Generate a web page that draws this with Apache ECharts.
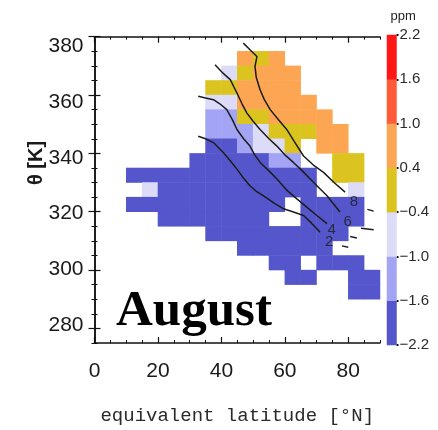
<!DOCTYPE html>
<html>
<head>
<meta charset="utf-8">
<script src="https://cdn.jsdelivr.net/npm/echarts@6/dist/echarts.min.js"></script>
<style>
  html, body { margin: 0; padding: 0; background: #fff; }
  #chart { width: 438px; height: 430px; }
</style>
</head>
<body>
<div id="chart"></div>
<script>
// Equivalent-latitude / potential-temperature bins (lower edges, 5° x 5 K cells)
const latStarts = [0, 5, 10, 15, 20, 25, 30, 35, 40, 45, 50, 55, 60, 65, 70, 75, 80, 85];
const thetaStarts = [275, 280, 285, 290, 295, 300, 305, 310, 315, 320, 325, 330, 335, 340, 345, 350, 355, 360, 365, 370, 375];

// Mixing-ratio anomaly [ppm] per cell, rows listed from θ = 375 K down to 275 K
const _ = null;
const anomalyRows = [
  /*375*/ [_, _, _, _, _, _, _, _, _, _, _, _, _, _, _, _, _, _],
  /*370*/ [_, _, _, _, _, _, _, _, _, 0.7, 0.0, 0.7, _, _, _, _, _, _],
  /*365*/ [_, _, _, _, _, _, _, _, -0.7, 0.0, 0.7, 0.7, 0.7, _, _, _, _, _],
  /*360*/ [_, _, _, _, _, _, _, 0.0, 0.0, 0.7, 0.7, 0.7, 0.7, _, _, _, _, _],
  /*355*/ [_, _, _, _, _, _, _, -0.7, -0.7, 0.7, 0.7, 0.7, 0.7, 0.7, _, _, _, _],
  /*350*/ [_, _, _, _, _, _, _, -1.3, -1.3, 0.0, 0.0, 0.7, 0.7, 0.7, 0.7, _, _, _],
  /*345*/ [_, _, _, _, _, _, _, -1.3, -1.3, -1.3, -0.7, 0.0, 0.0, 0.0, 0.7, 0.7, _, _],
  /*340*/ [_, _, _, _, _, _, _, -1.9, -1.9, -1.3, -0.7, -0.7, 0.0, _, 0.7, 0.7, _, _],
  /*335*/ [_, _, _, _, _, _, -1.9, -1.9, -1.9, -1.9, -1.9, -1.3, -1.3, _, _, 0.0, 0.0, _],
  /*330*/ [_, _, -1.9, -1.9, -1.9, -1.9, -1.9, -1.9, -1.9, -1.9, -1.9, -1.9, -1.9, -1.9, _, 0.0, 0.0, _],
  /*325*/ [_, _, _, -0.7, -1.9, -1.9, -1.9, -1.9, -1.9, -1.9, -1.9, -1.9, -1.9, -1.9, _, _, -0.7, _],
  /*320*/ [_, _, -1.9, -1.9, -1.9, -1.9, -1.9, -1.9, -1.9, -1.9, -1.9, -1.9, _, -1.9, -1.9, -1.9, -1.9, _],
  /*315*/ [_, _, _, _, -1.9, -1.9, -1.9, -1.9, -1.9, -1.9, -1.9, _, _, -1.9, -1.9, -1.9, -1.9, _],
  /*310*/ [_, _, _, _, _, _, _, -1.9, -1.9, -1.9, -1.9, -1.9, -1.9, -1.9, -1.9, -1.9, _, _],
  /*305*/ [_, _, _, _, _, _, _, _, _, -1.9, -1.9, -1.9, -1.9, -1.9, -1.9, _, _, _],
  /*300*/ [_, _, _, _, _, _, _, _, _, _, _, -1.9, -1.9, _, -1.9, -1.9, -1.9, _],
  /*295*/ [_, _, _, _, _, _, _, _, _, _, _, _, -1.9, -1.9, _, _, -1.9, -1.9],
  /*290*/ [_, _, _, _, _, _, _, _, _, _, _, _, _, _, _, _, -1.9, -1.9],
  /*285*/ [_, _, _, _, _, _, _, _, _, _, _, _, _, _, _, _, _, _],
  /*280*/ [_, _, _, _, _, _, _, _, _, _, _, _, _, _, _, _, _, _],
  /*275*/ [_, _, _, _, _, _, _, _, _, _, _, _, _, _, _, _, _, _]
];

// Colour classes of the anomaly scale
const levelEdges = [-2.2, -1.6, -1.0, -0.4, 0.4, 1.0, 1.6, 2.2];
const levelLabels = ['\u22122.2', '\u22121.6', '\u22121.0', '\u22120.4', '0.4', '1.0', '1.6', '2.2'];
const levelColors = ['#5656cc', '#a4a4f4', '#dcdcf9', '#dbc420', '#fca653', '#ff5b38', '#ff1616'];
const levelMids = [-1.9, -1.3, -0.7, 0.0, 0.7, 1.3, 1.9];

// Overlaid contour lines [latitude, θ]
const contourLevels = ['8', '6', '4', '2'];
const contour8 = [[46.9, 377.8], [49.5, 375.0], [51.2, 373.2], [50.6, 369.8], [51.0, 366.0], [52.2, 361.8], [53.5, 358.5], [55.4, 355.0], [58.0, 351.5], [60.6, 348.2], [63.0, 344.0], [65.9, 339.1], [69.0, 336.0], [72.2, 333.5], [75.5, 330.0], [79.0, 326.7]];
const contour8Tail = [[86.0, 320.8], [88.0, 320.2]];
const contour6 = [[38.0, 370.4], [40.5, 367.5], [42.8, 365.3], [44.9, 360.7], [46.5, 357.0], [48.0, 353.9], [50.0, 351.0], [52.2, 348.2], [55.0, 345.0], [57.5, 342.5], [60.0, 339.5], [62.7, 336.9], [65.5, 334.0], [68.0, 331.2], [70.5, 328.5], [73.3, 325.5], [75.5, 322.5], [77.4, 319.9]];
const contour6Tail = [[84.0, 314.3], [88.0, 313.8]];
const contour4 = [[32.7, 359.6], [35.0, 359.0], [37.5, 358.4], [39.5, 357.0], [41.7, 355.0], [43.5, 351.5], [44.9, 348.2], [47.0, 345.0], [49.0, 342.5], [50.5, 339.5], [52.2, 336.9], [55.0, 334.0], [57.5, 331.2], [60.5, 327.5], [63.8, 324.4], [67.0, 321.5], [70.1, 318.7], [73.3, 315.9]];
const contour4Tail = [[80.6, 311.5], [82.7, 311.0]];
const contour2 = [[32.7, 345.9], [35.0, 345.0], [37.5, 343.7], [40.6, 340.3], [42.8, 337.5], [44.9, 334.6], [47.0, 331.5], [49.0, 328.9], [51.0, 327.0], [53.2, 325.5], [56.5, 323.0], [59.6, 321.0], [62.5, 320.0], [65.9, 318.7], [68.5, 316.0], [71.1, 313.0]];
const contour2Tail = [[78.0, 308.3], [80.0, 307.8]];
const contourLabelAt = [[81.8, 323.5], [79.8, 316.6], [74.8, 313.7], [74.0, 309.5]];

// Axis ticks and labels
const latTicks = [0, 20, 40, 60, 80];
const thetaTicks = [280, 300, 320, 340, 360, 380];

const cells = [];
anomalyRows.forEach((row, i) => {
  const r = thetaStarts.length - 1 - i;
  row.forEach((v, c) => { if (v !== null) cells.push([c, r, v]); });
});

const chart = echarts.init(document.getElementById('chart'), null, { renderer: 'canvas' });

const tickFont = '"Liberation Sans", Arial, sans-serif';
const frame = { show: true, lineStyle: { color: '#111', width: 1.5 } };
const minorTick = { show: true, inside: true, length: 3, lineStyle: { color: '#111', width: 1 } };
const majorTick = (vals) => ({ show: true, inside: true, length: 6, customValues: vals, lineStyle: { color: '#111', width: 1.2 } });

function contourSeries(data) {
  return {
    type: 'line', xAxisIndex: 0, yAxisIndex: 0, data: data, showSymbol: false, symbol: 'none',
    lineStyle: { color: '#1c1c1c', width: 1.5 }, silent: true, z: 5, animation: false
  };
}

chart.setOption({
  animation: false,
  grid: [
    { left: 94.5, top: 36.7, width: 285.5, height: 308.3 },
    { left: 387, top: 35, width: 9.5, height: 310 }
  ],
  visualMap: {
    type: 'piecewise', show: false, seriesIndex: [0, 1], dimension: 2,
    pieces: levelColors.map((col, i) => ({ gte: levelEdges[i], lt: levelEdges[i + 1], color: col }))
  },
  xAxis: [
    { gridIndex: 0, type: 'value', position: 'bottom', min: 0, max: 90, interval: 5,
      axisLine: frame, axisTick: minorTick, axisLabel: { show: false }, splitLine: { show: false } },
    { gridIndex: 0, type: 'value', position: 'bottom', min: 0, max: 90,
      axisLine: { show: false }, axisTick: majorTick(latTicks), splitLine: { show: false },
      axisLabel: { customValues: latTicks, fontSize: 21, color: '#1a1a1a', fontFamily: tickFont, margin: 18 },
      name: 'equivalent latitude [\u00b0N]', nameLocation: 'middle', nameGap: 63,
      nameTextStyle: { fontFamily: '"Liberation Mono", "DejaVu Sans Mono", monospace', fontSize: 19, color: '#2a2a2a' } },
    { gridIndex: 0, type: 'value', position: 'top', min: 0, max: 90, interval: 5,
      axisLine: frame, axisTick: minorTick, axisLabel: { show: false }, splitLine: { show: false } },
    { gridIndex: 0, type: 'value', position: 'top', min: 0, max: 90,
      axisLine: { show: false }, axisTick: majorTick(latTicks), axisLabel: { show: false }, splitLine: { show: false } },
    { gridIndex: 0, type: 'category', data: latStarts, show: false, boundaryGap: true },
    { gridIndex: 1, type: 'category', data: ['ppm'], show: false, boundaryGap: true }
  ],
  yAxis: [
    { gridIndex: 0, type: 'value', position: 'left', min: 275, max: 380, interval: 5,
      axisLine: frame, axisTick: minorTick, axisLabel: { show: false }, splitLine: { show: false } },
    { gridIndex: 0, type: 'value', position: 'left', min: 275, max: 380,
      axisLine: { show: false }, axisTick: majorTick(thetaTicks), axisLabel: { show: false }, splitLine: { show: false } },
    { gridIndex: 0, type: 'value', position: 'right', min: 275, max: 380, interval: 5,
      axisLine: frame, axisTick: minorTick, axisLabel: { show: false }, splitLine: { show: false } },
    { gridIndex: 0, type: 'value', position: 'right', min: 275, max: 380,
      axisLine: { show: false }, axisTick: majorTick(thetaTicks), axisLabel: { show: false }, splitLine: { show: false } },
    { gridIndex: 0, type: 'value', position: 'left', min: 273.46, max: 383.57,
      axisLine: { show: false }, axisTick: { show: false }, splitLine: { show: false },
      axisLabel: { customValues: thetaTicks, fontSize: 21, color: '#1a1a1a', fontFamily: tickFont, margin: 11 } },
    { gridIndex: 0, type: 'category', data: thetaStarts, show: false, boundaryGap: true },
    { gridIndex: 1, type: 'category', data: levelMids, show: false, boundaryGap: true },
    { gridIndex: 1, type: 'value', position: 'right', min: 0, max: 7,
      axisLine: { show: false }, splitLine: { show: false },
      axisTick: { show: true, customValues: [0, 1, 2, 3, 4, 5, 6, 7], length: 2, lineStyle: { color: '#111', width: 2 } },
      axisLabel: { customValues: [0, 1, 2, 3, 4, 5, 6, 7], formatter: (v) => levelLabels[Math.round(v)],
        fontSize: 15, color: '#2a2a2a', fontFamily: tickFont, margin: 3 },
      name: 'ppm', nameLocation: 'end', nameGap: 12,
      nameTextStyle: { fontSize: 13, color: '#222', fontFamily: tickFont, align: 'left', padding: [0, 0, 0, -6] } }
  ],
  series: [
    { type: 'heatmap', xAxisIndex: 4, yAxisIndex: 5, data: cells, silent: true, z: 2 },
    { type: 'heatmap', xAxisIndex: 5, yAxisIndex: 6, data: levelMids.map((m, i) => [0, i, m]), silent: true },
    contourSeries(contour8), contourSeries(contour8Tail),
    contourSeries(contour6), contourSeries(contour6Tail),
    contourSeries(contour4), contourSeries(contour4Tail),
    contourSeries(contour2), contourSeries(contour2Tail),
    {
      type: 'scatter', xAxisIndex: 0, yAxisIndex: 0, symbolSize: 0, silent: true, z: 6,
      data: contourLevels.map((t, i) => ({ value: contourLabelAt[i], name: t })),
      label: { show: true, position: 'inside', formatter: (p) => p.name, fontSize: 15, color: '#1c1c1c', fontFamily: tickFont }
    }
  ],
  graphic: [
    { type: 'text', left: 116, top: 286, z: 100,
      style: { text: 'August', font: 'bold 51px "Liberation Serif", "Times New Roman", serif', fill: '#000' } },
    { type: 'text', x: 36, y: 163, rotation: Math.PI / 2, z: 100,
      style: { text: '\u03b8 [K]', font: 'bold 20px "Liberation Sans", Arial, sans-serif', fill: '#1a1a1a', align: 'center', verticalAlign: 'middle' } }
  ]
});
</script>
</body>
</html>
